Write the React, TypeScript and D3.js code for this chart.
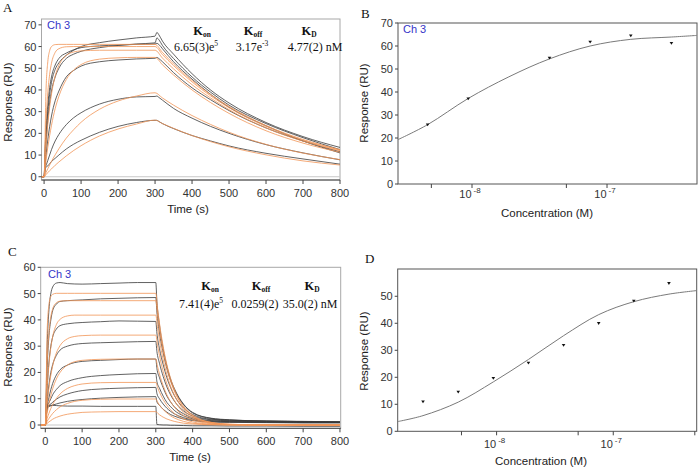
import React from 'react';
import * as d3 from 'd3';

const sans = 'Liberation Sans, Arial, sans-serif';
const serif = 'Liberation Serif, Times New Roman, serif';

// ---- panel A : sensorgrams, 6 injections (4.69 .. 300 nM) ----
const aDataTime = [-7, 0, 3, 6, 10, 15, 20, 30, 40, 60, 80, 100, 150, 200, 250, 300, 305, 310, 320, 350, 400, 450, 500, 600, 700, 800];
const aData469 = [0, 0, 4, 4.5, 5, 6, 7, 8.5, 10, 12.8, 15, 16.8, 20.5, 23.2, 25, 26, 26, 25.5, 24.5, 22.2, 19, 16.5, 14.2, 10.8, 8.2, 5.8];
const aData938 = [0, 0, 4, 5.5, 7.5, 10, 12.5, 16.5, 19.5, 24, 27.2, 29.5, 33.5, 35.7, 36.8, 37, 37.2, 36.6, 35.3, 31.5, 27, 23.2, 20, 14.8, 11, 7.8];
const aData375 = [0, 0, 6, 11, 17, 23, 28, 35, 39.5, 46, 49, 51, 53, 53.8, 54.3, 54.6, 55, 54.5, 53, 48, 41, 35.5, 30.5, 22.5, 16.5, 11.5];
const aData75 = [0, 0, 9, 17, 26, 34, 39.5, 46, 50, 54.5, 56.5, 57.8, 59.5, 60.5, 61.2, 61.7, 64, 63.2, 60.5, 54.5, 46, 39, 33, 24.5, 18, 12.5];
const aData150 = [0, 0, 12, 21, 30, 38, 43.5, 49.5, 52.5, 56, 58.3, 60, 61.8, 63, 64, 64.8, 66.5, 65.5, 62.5, 56.5, 47.5, 40, 34, 25, 18.5, 13.5];
const aData300 = [0, 0, 14, 24, 33, 41, 46, 51.5, 54.5, 57, 58.5, 59.5, 60.3, 60.7, 61, 61.2, 61.5, 61, 59, 53, 45, 38, 32, 23.5, 16.5, 11];

const aFitTime = [-7, 0, 5, 10, 15, 20, 30, 40, 60, 80, 100, 150, 200, 250, 300, 320, 350, 400, 450, 500, 600, 700, 800];
const aFit469 = [0, 0, 0.95, 1.9, 2.8, 3.6, 5.3, 6.8, 9.6, 12.1, 14.3, 18.8, 22, 24.3, 26.1, 24.5, 22.3, 19, 16.2, 13.8, 10.1, 7.3, 5.4];
const aFit938 = [0, 0, 1.9, 3.7, 5.4, 7.1, 10.1, 12.9, 17.8, 21.7, 25.1, 31.1, 34.9, 37.2, 38.7, 36.3, 33, 28.2, 24.1, 20.5, 14.9, 10.9, 7.9];
const aFit375 = [0, 0, 7.2, 13.5, 18.9, 23.7, 31.4, 37.1, 44.8, 49.2, 51.7, 54.2, 54.8, 55, 55, 51.6, 46.9, 40, 34.2, 29.2, 21.2, 15.5, 11.3];
const aFit75 = [0, 0, 13.6, 24, 32, 38.1, 46.4, 51.3, 55.9, 57.5, 58, 58.3, 58.3, 58.3, 58.3, 54.7, 49.7, 42.4, 36.3, 30.9, 22.5, 16.4, 12];
const aFit150 = [0, 0, 24.1, 38.6, 47.2, 52.3, 57.3, 59, 59.9, 60, 60, 60, 60, 60, 60, 56.3, 51.2, 43.7, 37.3, 31.8, 23.2, 16.9, 12.3];
const aFit300 = [0, 0, 38.8, 53, 58.1, 60, 60.9, 61, 61, 61, 61, 61, 61, 61, 61, 57.3, 52, 44.4, 37.9, 32.4, 23.6, 17.2, 12.5];

// ---- panel B : steady state, Ch 3 ----
const bConc = [4.69e-9, 9.375e-9, 37.5e-9, 75e-9, 150e-9, 300e-9];
const bResp = [25.8, 37.1, 54.8, 61.8, 64.5, 61.2];
const bFitConc = [2.83e-9, 4.69e-9, 9.375e-9, 18.75e-9, 37.5e-9, 75e-9, 150e-9, 300e-9, 4.64e-7];
const bFitResp = [19.3, 25.8, 37.2, 46.6, 54.4, 60.0, 62.9, 63.9, 64.6];

// ---- panel C : sensorgrams, 8 injections (2.34 .. 300 nM) + blank ----
const cDataTime = [-12, 0, 5, 10, 15, 20, 30, 40, 60, 100, 150, 200, 250, 300, 303, 310, 320, 330, 340, 350, 375, 400, 450, 500, 600, 700, 800];
const cData300 = [0, 0, 30, 44, 50, 52.5, 54, 54.2, 53.8, 53.6, 53.8, 54, 54.2, 54.2, 47, 38, 29, 22.5, 17.5, 14, 8, 4.8, 2.6, 2, 1.5, 1.4, 1.2];
const cData150 = [0, 0, 22, 34, 40, 43.5, 46, 47, 47.3, 47.6, 48, 48.2, 48.4, 48.5, 43, 35, 27.5, 21.5, 17, 13.5, 7.8, 4.6, 2.5, 1.9, 1.5, 1.3, 1.2];
const cData75 = [0, 0, 14, 24, 30, 33.5, 36.5, 37.8, 38.5, 39, 39.3, 39.6, 39.5, 39.4, 35, 29, 23, 18, 14.3, 11.3, 6.5, 4, 2.2, 1.8, 1.5, 1.3, 1.2];
const cData375 = [0, 0, 9, 15.5, 20, 23, 26.5, 28.5, 30, 31, 31.3, 31.5, 31.7, 31.8, 28, 23.5, 18.5, 14.5, 11.5, 9.2, 5.4, 3.4, 2, 1.6, 1.4, 1.2, 1.1];
const cData1875 = [0, 0, 7, 10.5, 13.5, 15.8, 19, 21, 22.8, 24.2, 24.6, 24.9, 25.1, 25.1, 21.5, 18, 14.2, 11, 8.8, 7, 4.3, 2.8, 1.7, 1.4, 1.2, 1.1, 1];
const cData938 = [0, 0, 7, 8.5, 10, 11.5, 13.5, 15, 16.5, 18, 18.8, 19.2, 19.5, 19.6, 16.5, 14, 11, 8.6, 7, 5.6, 3.5, 2.4, 1.5, 1.3, 1.1, 1, 1];
const cData469 = [0, 0, 7, 7.5, 8, 8.7, 9.8, 10.7, 11.8, 13.1, 13.7, 14, 14.2, 14.3, 12, 10, 8, 6.4, 5.2, 4.3, 2.8, 2, 1.3, 1.1, 1, 0.9, 0.9];
const cData234 = [0, 0, 6.5, 7, 7.3, 7.6, 8, 8.4, 9, 9.7, 10.2, 10.5, 10.7, 10.8, 8.8, 7.5, 6, 4.9, 4, 3.4, 2.3, 1.7, 1.1, 1, 0.9, 0.8, 0.8];
const cDataBlank = [0, 0, 6.5, 7.3, 7.5, 7.5, 7.4, 7.3, 7.2, 7.2, 7.1, 7.1, 7.1, 7.1, 0.2, 0.1, 0, 0, -0.1, -0.1, -0.2, -0.3, -0.3, -0.4, -0.4, -0.5, -0.5];

const cFitTime = [-12, 0, 5, 10, 15, 20, 30, 40, 60, 80, 100, 150, 200, 300, 305, 310, 320, 330, 340, 350, 375, 400, 450, 500, 600, 800];
const cFit300 = [0, 0, 35.6, 45.9, 48.9, 49.7, 50.1, 50.1, 50.1, 50.1, 50.1, 50.1, 50.1, 50.1, 44, 38.7, 29.9, 23, 17.8, 13.7, 7.2, 3.8, 1, 0.3, 0, 0];
const cFit150 = [0, 0, 23.5, 35.3, 41.2, 44.2, 46.5, 47.1, 47.3, 47.3, 47.3, 47.3, 47.3, 47.3, 41.6, 36.5, 28.2, 21.8, 16.8, 13, 6.8, 3.5, 1, 0.3, 0, 0];
const cFit75 = [0, 0, 14, 23.3, 29.5, 33.6, 38.2, 40.2, 41.5, 41.8, 41.8, 41.8, 41.8, 41.8, 36.7, 32.3, 24.9, 19.2, 14.8, 11.5, 6, 3.1, 0.9, 0.2, 0, 0];
const cFit375 = [0, 0, 8.1, 14.2, 18.9, 22.5, 27.4, 30.2, 32.8, 33.7, 34, 34.2, 34.2, 34.2, 30.1, 26.4, 20.4, 15.7, 12.1, 9.4, 4.9, 2.6, 0.7, 0.2, 0, 0];
const cFit1875 = [0, 0, 4.5, 8.2, 11.3, 13.8, 17.5, 20, 22.8, 24.1, 24.6, 25, 25.1, 25.1, 22.1, 19.4, 15, 11.5, 8.9, 6.9, 3.6, 1.9, 0.5, 0.1, 0, 0];
const cFit938 = [0, 0, 2.5, 4.5, 6.3, 7.8, 10.1, 11.8, 13.9, 15, 15.6, 16.1, 16.2, 16.2, 14.2, 12.5, 9.7, 7.5, 5.8, 4.4, 2.3, 1.2, 0.3, 0.1, 0, 0];
const cFit469 = [0, 0, 1.4, 2.5, 3.5, 4.4, 5.8, 6.9, 8.2, 9, 9.4, 9.8, 9.9, 9.9, 8.7, 7.6, 5.9, 4.6, 3.5, 2.7, 1.4, 0.7, 0.2, 0.1, 0, 0];
const cFit234 = [0, 0, 0.66, 1.2, 1.7, 2.2, 2.9, 3.4, 4.1, 4.5, 4.8, 5, 5.1, 5.1, 4.5, 3.9, 3, 2.3, 1.8, 1.4, 0.7, 0.4, 0.1, 0, 0, 0];

// ---- panel D : steady state ----
const dConc = [2.34e-9, 4.69e-9, 9.375e-9, 18.75e-9, 37.5e-9, 75e-9, 150e-9, 300e-9];
const dResp = [11.0, 14.6, 19.7, 25.3, 31.9, 40.0, 48.3, 54.8];
const dFitConc = [1.42e-9, 2.34e-9, 4.69e-9, 9.375e-9, 18.75e-9, 37.5e-9, 75e-9, 150e-9, 300e-9, 5.19e-7];
const dFitResp = [3.6, 5.8, 10.8, 18.3, 26.6, 35.4, 43.2, 48.0, 50.8, 52.1];

const timeTicks = [0, 100, 200, 300, 400, 500, 600, 700, 800];

const BLACK = '#3a3a3a';
const ORANGE = '#f29658';

function YLabel({ x, y }) {
  return (
    <text transform={`translate(${x},${y}) rotate(-90)`} textAnchor="middle"
      fontFamily={sans} fontSize={11.5} fill="#222">Response (RU)</text>
  );
}

function SensorPanel({ id, box, tDomain, vDomain, yTicks, dataTime, data, fitTime, fit, letter, ch, yLab, xLab, kin }) {
  const x = d3.scaleLinear().domain(tDomain).range([box.left, box.right]);
  const y = d3.scaleLinear().domain(vDomain).range([box.bottom, box.top]);
  const mk = (times) => d3.line<number>().x((_, i) => x(times[i])).y(d => y(d)).curve(d3.curveMonotoneX);
  const dataLine = mk(dataTime);
  const fitLine = mk(fitTime);
  return (
    <g>
      <clipPath id={id}>
        <rect x={box.left} y={box.top} width={box.right - box.left} height={box.bottom - box.top} />
      </clipPath>
      <rect x={box.left} y={box.top} width={box.right - box.left} height={box.bottom - box.top}
        fill="white" stroke="#a8a8a8" strokeWidth={1} />
      <line x1={box.left} x2={box.right} y1={y(0)} y2={y(0)} stroke="#c8c8c8" strokeWidth={1} />
      <g clipPath={`url(#${id})`}>
        {data.map((s, i) => (
          <path key={'d' + i} d={dataLine(s)} fill="none" stroke={BLACK} strokeWidth={0.8} />
        ))}
        {fit.map((s, i) => (
          <path key={'f' + i} d={fitLine(s)} fill="none" stroke={ORANGE} strokeWidth={0.9} strokeOpacity={0.9} />
        ))}
      </g>
      <line x1={box.left} x2={box.right} y1={box.bottom} y2={box.bottom} stroke="#444" strokeWidth={1} />
      {timeTicks.map(t => (
        <g key={t}>
          <line x1={x(t)} x2={x(t)} y1={box.bottom} y2={box.bottom + 4} stroke="#444" />
          <text x={x(t)} y={box.bottom + 17} textAnchor="middle" fontFamily={sans} fontSize={11} fill="#333">{t}</text>
        </g>
      ))}
      {yTicks.map(v => (
        <g key={v}>
          <line x1={box.left - 3} x2={box.left} y1={y(v)} y2={y(v)} stroke="#444" />
          <text x={box.left - 5} y={y(v) + 4} textAnchor="end" fontFamily={sans} fontSize={11} fill="#333">{v}</text>
        </g>
      ))}
      <YLabel x={yLab[0]} y={yLab[1]} />
      <text x={xLab[0]} y={xLab[1]} textAnchor="middle" fontFamily={sans} fontSize={11.5} fill="#222">Time (s)</text>
      <text x={letter[1]} y={letter[2]} fontFamily={serif} fontSize={13} fill="#111">{letter[0]}</text>
      <text x={ch[0]} y={ch[1]} fontFamily={sans} fontSize={11} fill="#3535c8">Ch 3</text>
      {kin.heads.map((h, i) => (
        <text key={'h' + i} x={h[1]} y={kin.headY} textAnchor="middle" fontFamily={serif} fontWeight="bold" fontSize={12.5} fill="#111">
          K<tspan fontSize={7.5} dy={2}>{h[0]}</tspan>
        </text>
      ))}
      {kin.values.map((v, i) => (
        <text key={'v' + i} x={v[2]} y={kin.valueY} textAnchor="middle" fontFamily={serif} fontSize={12} fill="#111">
          {v[0]}{v[1] ? <tspan fontSize={7.5} dy={-5}>{v[1]}</tspan> : null}
        </text>
      ))}
    </g>
  );
}

function BindingPanel({ box, xDomain, vDomain, yTicks, conc, resp, fitConc, fitResp, letter, ch, yLab, xLab, labelY }) {
  const x = d3.scaleLog().domain(xDomain).range([box.left, box.right]);
  const y = d3.scaleLinear().domain(vDomain).range([box.bottom, box.top]);
  const fitLine = d3.line<number>().x((_, i) => x(fitConc[i])).y(d => y(d)).curve(d3.curveCatmullRom.alpha(0.5));
  const minor = [5e-9, 1e-8, 5e-8, 1e-7, 5e-7].filter(c => c >= xDomain[0] && c <= xDomain[1]);
  const major = [[1e-8, '-8'], [1e-7, '-7']];
  return (
    <g>
      <rect x={box.left} y={box.top} width={box.right - box.left} height={box.bottom - box.top}
        fill="white" stroke="#555" strokeWidth={1} />
      <path d={fitLine(fitResp)} fill="none" stroke="#7a7a7a" strokeWidth={1} />
      {conc.map((c, i) => (
        <path key={i} d={`M${x(c) - 1.8},${y(resp[i]) - 1.2}h3.6l-1.8,2.8z`} fill="#111" />
      ))}
      {minor.map(c => (
        <line key={c} x1={x(c)} x2={x(c)} y1={box.bottom} y2={box.bottom + 4} stroke="#444" />
      ))}
      {major.map(([c, e]) => (
        <text key={e} x={x(c) - 2} y={labelY} textAnchor="middle" fontFamily={sans} fontSize={11} fill="#333">
          10<tspan fontSize={8} dx={2} dy={-5}>{e}</tspan>
        </text>
      ))}
      {yTicks.map(v => (
        <g key={v}>
          <line x1={box.left - 3} x2={box.left} y1={y(v)} y2={y(v)} stroke="#444" />
          <text x={box.left - 5} y={y(v) + 4} textAnchor="end" fontFamily={sans} fontSize={11} fill="#333">{v}</text>
        </g>
      ))}
      <YLabel x={yLab[0]} y={yLab[1]} />
      <text x={xLab[0]} y={xLab[1]} textAnchor="middle" fontFamily={sans} fontSize={11.5} fill="#222">Concentration (M)</text>
      <text x={letter[1]} y={letter[2]} fontFamily={serif} fontSize={13} fill="#111">{letter[0]}</text>
      {ch ? <text x={ch[0]} y={ch[1]} fontFamily={sans} fontSize={11} fill="#3535c8">Ch 3</text> : null}
    </g>
  );
}

export default function App() {
  return (
    <div style={{ position: 'absolute', left: 0, top: 0 }}>
      <svg width={699} height={468} style={{ display: 'block', background: 'white' }}>
        <SensorPanel id="clipA"
          box={{ left: 41.5, right: 340, top: 19, bottom: 180 }}
          tDomain={[-7, 800]} vDomain={[-1.5, 72.7]} yTicks={[0, 10, 20, 30, 40, 50, 60, 70]}
          dataTime={aDataTime} data={[aData469, aData938, aData375, aData75, aData150, aData300]}
          fitTime={aFitTime} fit={[aFit469, aFit938, aFit375, aFit75, aFit150, aFit300]}
          letter={['A', 3, 12]} ch={[47, 29]} yLab={[12, 102]} xLab={[188, 213]}
          kin={{
            headY: 34.5, valueY: 50.5,
            heads: [['on', 202], ['off', 253], ['D', 309]],
            values: [['6.65(3)e', '5', 196], ['3.17e', '-3', 252], ['4.77(2) nM', '', 315]],
          }} />
        <BindingPanel
          box={{ left: 398, right: 697, top: 23, bottom: 184 }}
          xDomain={[2.83e-9, 4.64e-7]} vDomain={[0, 70]} yTicks={[0, 10, 20, 30, 40, 50, 60, 70]}
          conc={bConc} resp={bResp} fitConc={bFitConc} fitResp={bFitResp}
          letter={['B', 361, 18]} ch={[403, 33]} yLab={[368, 103]} xLab={[547, 217]} labelY={198} />
        <SensorPanel id="clipC"
          box={{ left: 40.7, right: 340.7, top: 267.3, bottom: 428.3 }}
          tDomain={[-12.5, 802]} vDomain={[-1.25, 60]} yTicks={[0, 10, 20, 30, 40, 50, 60]}
          dataTime={cDataTime} data={[cDataBlank, cData234, cData469, cData938, cData1875, cData375, cData75, cData150, cData300]}
          fitTime={cFitTime} fit={[cFit234, cFit469, cFit938, cFit1875, cFit375, cFit75, cFit150, cFit300]}
          letter={['C', 8, 256]} ch={[48, 278]} yLab={[12, 347]} xLab={[190, 461]}
          kin={{
            headY: 290, valueY: 307.5,
            heads: [['on', 210], ['off', 261], ['D', 312]],
            values: [['7.41(4)e', '5', 201], ['0.0259(2)', '', 255], ['35.0(2) nM', '', 310]],
          }} />
        <BindingPanel
          box={{ left: 397.7, right: 696.7, top: 269, bottom: 431.3 }}
          xDomain={[1.42e-9, 5.19e-7]} vDomain={[0, 60.1]} yTicks={[0, 10, 20, 30, 40, 50]}
          conc={dConc} resp={dResp} fitConc={dFitConc} fitResp={dFitResp}
          letter={['D', 365, 263]} ch={null} yLab={[368, 351]} xLab={[541, 465]} labelY={448} />
      </svg>
    </div>
  );
}
